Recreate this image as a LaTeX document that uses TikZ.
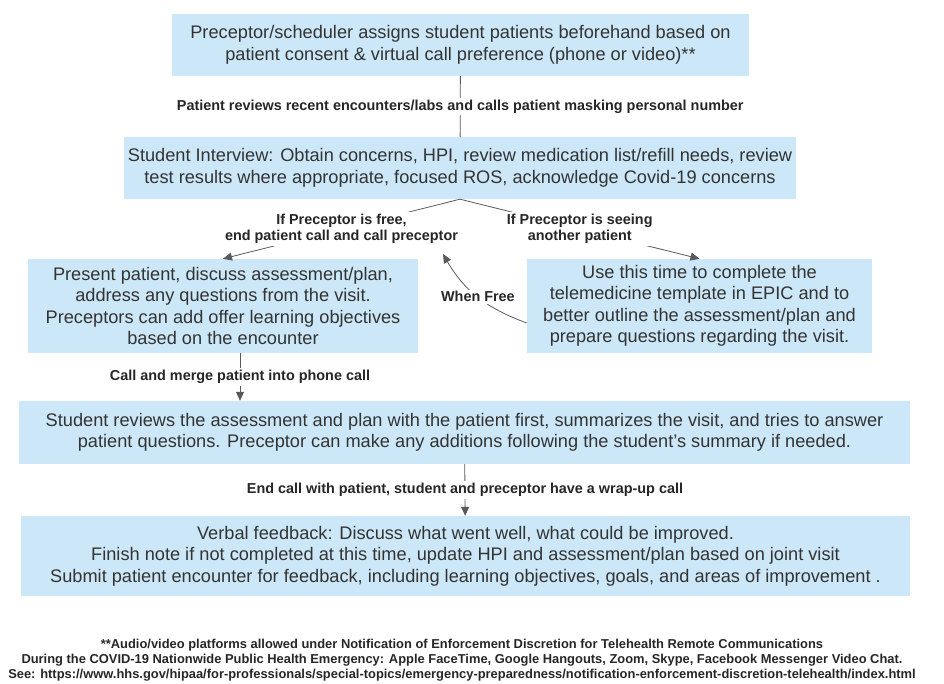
\documentclass[tikz,border=0pt]{standalone}
\usepackage{fontspec}
\setmainfont{Liberation Sans}
\usepackage{tikz}
\usetikzlibrary{arrows.meta,positioning,calc}
\definecolor{boxblue}{RGB}{204,232,248}
\definecolor{txtgray}{RGB}{51,51,51}
\definecolor{linegray}{RGB}{90,90,90}
\tikzset{
  box/.style={rectangle, fill=boxblue, inner sep=0pt, align=center, text=txtgray, font=\fontsize{18.2}{21.5}\selectfont},
  lbl/.style={fill=white, inner sep=2pt, align=center, text=black!85, font=\fontsize{14.4}{16}\selectfont\bfseries},
  link/.style={draw=linegray, line width=0.8pt},
  arrow/.style={link, -{Triangle[length=9pt, width=8pt]}},
  note/.style={align=center, text=black!85, font=\fontsize{12.9}{15.3}\selectfont\bfseries},
}

\begin{document}
\begin{tikzpicture}[x=1pt, y=-1pt]
  \useasboundingbox (0,0) rectangle (944,684);

  % Flow boxes - pixel coordinates, top to bottom
  \node[box, minimum width=577, minimum height=62] (assign) at (460.5,45) {Preceptor/scheduler assigns student patients beforehand based on\\patient consent \& virtual call preference (phone or video)**};
  \node[box, minimum width=672, minimum height=62] (interview) at (460,168) {Student Interview: Obtain concerns, HPI, review medication list/refill needs, review\\test results where appropriate, focused ROS, acknowledge Covid-19 concerns};

  % Two branches
  \node[box, minimum width=390, minimum height=94] (present) at (223,306) {Present patient, discuss assessment/plan,\\address any questions from the visit.\\Preceptors can add offer learning objectives\\based on the encounter};
  \node[box, minimum width=345, minimum height=94] (wait) at (699.5,306) {Use this time to complete the\\telemedicine template in EPIC and to\\better outline the assessment/plan and\\prepare questions regarding the visit.};

  \node[box, minimum width=891, minimum height=63] (review) at (464.5,432.5) {Student reviews the assessment and plan with the patient first, summarizes the visit, and tries to answer\\patient questions. Preceptor can make any additions following the student's summary if needed.};
  \node[box, minimum width=889, minimum height=80] (feedback) at (465.5,556) {Verbal feedback: Discuss what went well, what could be improved.\\Finish note if not completed at this time, update HPI and assessment/plan based on joint visit\\Submit patient encounter for feedback, including learning objectives, goals, and areas of improvement .};

  % Connectors with labels on top
  \draw[link] (assign) -- node[lbl] (reviewlbl) {Patient reviews recent encounters/labs and calls patient masking personal number} (interview);
  \draw[arrow] (interview.south) -- node[lbl] (freelbl) {If Preceptor is free,\\end patient call and call preceptor} (present.north);
  \draw[arrow] (interview.south) -- node[lbl] (busylbl) {If Preceptor is seeing\\another patient} (wait.north);

  \coordinate (freetip) at (443,254);
  \draw[arrow] ([yshift=-17pt]wait.west) to[out=160, in=-60] node[lbl] (whenlbl) {When Free} (freetip);

  \draw[arrow] ([xshift=17pt]present.south) -- node[lbl] (mergelbl) {Call and merge patient into phone call} ([xshift=17pt]present.south |- review.north);
  \draw[arrow] (review) -- node[lbl] (wraplbl) {End call with patient, student and preceptor have a wrap-up call} (feedback);

  % Footnote - below the boxes
  \node[note] (footnote) at (462,660) {**Audio/video platforms allowed under Notification of Enforcement Discretion for Telehealth Remote Communications\\During the COVID-19 Nationwide Public Health Emergency: Apple FaceTime, Google Hangouts, Zoom, Skype, Facebook Messenger Video Chat.\\See: https://www.hhs.gov/hipaa/for-professionals/special-topics/emergency-preparedness/notification-enforcement-discretion-telehealth/index.html};

\end{tikzpicture}
\end{document}
